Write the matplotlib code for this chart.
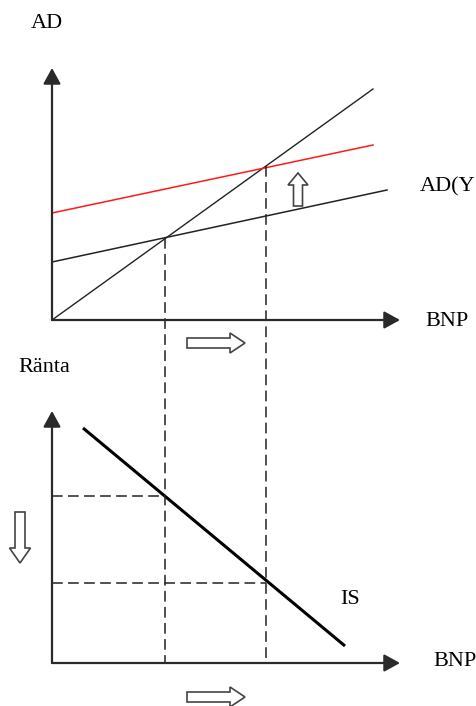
import numpy as np
import matplotlib
matplotlib.use('Agg')
from matplotlib import pyplot as plt
from matplotlib.patches import FancyArrow

# --- data (each panel has its own origin) ---
# upper panel: AD against BNP
bnp_45 = [0, 321]
ad_45 = [0, 231]
bnp_ad0 = [0, 335]
ad_ad0 = [58, 130]
bnp_ad1 = [0, 321]
ad_ad1 = [107, 175]
ad_eq = [82, 154]

# lower panel: Ränta against BNP (IS curve)
bnp_is = [31, 293]
ranta_is = [235, 17]
bnp_eq = [113, 214]
ranta_eq = [167, 80]

axis_len_x = 348
axis_len_y = 252
TOP = 343  # vertical offset of the upper panel

plt.rcParams['font.family'] = ['Liberation Serif', 'DejaVu Serif']

fig = plt.figure(figsize=(4.77, 7.06), dpi=100)
ax = fig.add_axes([0, 0, 1, 1])
ax.set_xlim(-52, 425)
ax.set_ylim(-43, 663)
ax.axis('off')

axis_col = '#2a2a2a'
dash = (7, 3.5)


def draw_axes(base):
    kw = dict(arrowstyle='-|>,head_length=0.6,head_width=0.33', color=axis_col,
              lw=1.6, mutation_scale=16, shrinkA=0, shrinkB=0)
    ax.annotate('', xy=(axis_len_x, base), xytext=(0, base), arrowprops=kw)
    ax.annotate('', xy=(0, base + axis_len_y), xytext=(0, base), arrowprops=kw)


draw_axes(TOP)
draw_axes(0)

# upper panel lines
ax.plot(bnp_45, np.array(ad_45) + TOP, color='#222222', lw=1.0)
ax.plot(bnp_ad0, np.array(ad_ad0) + TOP, color='#222222', lw=1.1)
ax.plot(bnp_ad1, np.array(ad_ad1) + TOP, color='#ff1a1a', lw=1.1)

# IS curve
ax.plot(bnp_is, ranta_is, color='black', lw=2.2, solid_capstyle='butt')

# dashed guides
for x, a, r in zip(bnp_eq, ad_eq, ranta_eq):
    ax.plot([x, x], [a + TOP, 0], color='#222222', lw=1.1, dashes=dash)
    ax.plot([0, x], [r, r], color='#222222', lw=1.1, dashes=dash)

# hollow shift arrows
arrow_kw = dict(length_includes_head=True, fc='white', ec='#444444', lw=1.2)
ax.add_patch(FancyArrow(135, 320, 58, 0, width=10, head_width=20,
                        head_length=15, **arrow_kw))
ax.add_patch(FancyArrow(135, -34, 58, 0, width=10, head_width=20,
                        head_length=15, **arrow_kw))
ax.add_patch(FancyArrow(-32, 151, 0, -51, width=10, head_width=21,
                        head_length=15, **arrow_kw))
ax.add_patch(FancyArrow(246, 457, 0, 33, width=9, head_width=20,
                        head_length=12, **arrow_kw))

# labels
fs = 16
ax.text(-21, 639, 'AD', fontsize=fs, va='center', ha='left')
ax.text(373, 341, 'BNP', fontsize=fs, va='center', ha='left')
ax.text(368, 476, 'AD(Y', fontsize=fs, va='center', ha='left')
ax.text(-34, 296, 'Ränta', fontsize=fs, va='center', ha='left')
ax.text(288, 64, 'IS', fontsize=fs, va='center', ha='left')
ax.text(381, 1, 'BNP', fontsize=fs, va='center', ha='left')

fig.savefig('out.png', dpi=100)
